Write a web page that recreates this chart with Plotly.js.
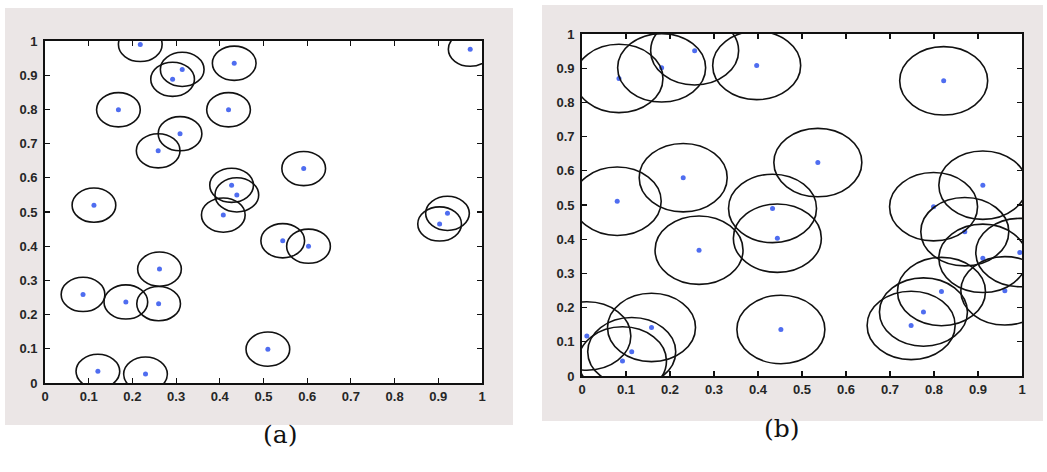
<!DOCTYPE html>
<html>
<head>
<meta charset="utf-8">
<script src="https://cdn.plot.ly/plotly-3.0.1.min.js"></script>
<style>
  html, body { margin: 0; padding: 0; background: #ffffff; }
  #chart { width: 1047px; height: 472px; }
</style>
</head>
<body>
<div id="chart"></div>
<script>
// Sensor positions for layout (a): small coverage radius
const ax = [0.218, 0.314, 0.292, 0.433, 0.168, 0.420, 0.309, 0.259, 0.427, 0.439,
            0.408, 0.112, 0.973, 0.592, 0.921, 0.903, 0.544, 0.603, 0.510, 0.262,
            0.087, 0.185, 0.260, 0.121, 0.230];
const ay = [0.990, 0.917, 0.888, 0.935, 0.799, 0.799, 0.729, 0.679, 0.578, 0.550,
            0.491, 0.520, 0.976, 0.627, 0.496, 0.465, 0.416, 0.400, 0.099, 0.333,
            0.259, 0.237, 0.232, 0.034, 0.026];
const radiusA = 0.05;

// Sensor positions for layout (b): larger coverage radius
const bx = [0.084, 0.181, 0.256, 0.397, 0.230, 0.080, 0.433, 0.822, 0.536, 0.911,
            0.799, 0.444, 0.266, 0.158, 0.011, 0.113, 0.092, 0.452, 0.870, 0.911,
            0.995, 0.961, 0.817, 0.776, 0.748];
const by = [0.870, 0.901, 0.951, 0.908, 0.580, 0.511, 0.490, 0.863, 0.624, 0.558,
            0.495, 0.403, 0.368, 0.142, 0.117, 0.071, 0.044, 0.136, 0.422, 0.344,
            0.361, 0.249, 0.247, 0.187, 0.148];
const radiusB = 0.1;

const panelLabels = ['(a)', '(b)'];
const tickVals = [0, 0.1, 0.2, 0.3, 0.4, 0.5, 0.6, 0.7, 0.8, 0.9, 1];
const tickText = ['0', '0.1', '0.2', '0.3', '0.4', '0.5', '0.6', '0.7', '0.8', '0.9', '1'];

const W = 1047, H = 472;
const px = v => v / W;
const py = v => 1 - v / H;

const dotStyle = { color: '#4f6df0', size: 5, symbol: 'circle' };

const traces = [
  { x: ax, y: ay, xaxis: 'x', yaxis: 'y', mode: 'markers', type: 'scatter',
    marker: dotStyle, hoverinfo: 'x+y', showlegend: false },
  { x: bx, y: by, xaxis: 'x2', yaxis: 'y2', mode: 'markers', type: 'scatter',
    marker: dotStyle, hoverinfo: 'x+y', showlegend: false }
];

// Coverage circles, drawn in data units on each subplot
function rings(xs, ys, r, xr, yr) {
  return xs.map((cx, i) => ({
    type: 'circle', xref: xr, yref: yr,
    x0: cx - r, x1: cx + r, y0: ys[i] - r, y1: ys[i] + r,
    line: { color: '#111111', width: 1.6 }, fillcolor: 'rgba(0,0,0,0)', layer: 'above'
  }));
}

const frameColor = '#ebe6e6';
const shapes = [
  // figure-window backgrounds
  { type: 'rect', xref: 'paper', yref: 'paper', layer: 'below',
    x0: px(5), x1: px(513), y0: py(425), y1: py(8),
    fillcolor: frameColor, line: { width: 0 } },
  { type: 'rect', xref: 'paper', yref: 'paper', layer: 'below',
    x0: px(542), x1: px(1043), y0: py(421), y1: py(5),
    fillcolor: frameColor, line: { width: 0 } },
  // white axes areas
  { type: 'rect', xref: 'x domain', yref: 'y domain', layer: 'below',
    x0: 0, x1: 1, y0: 0, y1: 1, fillcolor: '#ffffff', line: { width: 0 } },
  { type: 'rect', xref: 'x2 domain', yref: 'y2 domain', layer: 'below',
    x0: 0, x1: 1, y0: 0, y1: 1, fillcolor: '#ffffff', line: { width: 0 } }
].concat(rings(ax, ay, radiusA, 'x', 'y'), rings(bx, by, radiusB, 'x2', 'y2'));

const tickFont = { family: 'Liberation Sans, Arial, sans-serif', size: 13, color: '#262626', weight: 'bold' };
const axisBase = {
  range: [0, 1], tickmode: 'array', tickvals: tickVals, ticktext: tickText,
  ticks: 'inside', ticklen: 5, tickwidth: 1.2, tickcolor: '#111111',
  showline: true, linecolor: '#111111', linewidth: 1.8, mirror: 'ticks',
  showgrid: false, zeroline: false, fixedrange: true, tickfont: tickFont
};

const layout = {
  width: W, height: H,
  margin: { l: 0, r: 0, t: 0, b: 0 },
  paper_bgcolor: '#ffffff', plot_bgcolor: 'rgba(0,0,0,0)',
  showlegend: false,
  xaxis: Object.assign({}, axisBase, { domain: [px(45), px(482)], anchor: 'y', ticklabelstandoff: 1 }),
  yaxis: Object.assign({}, axisBase, { domain: [py(383), py(41)], anchor: 'x', ticklabelstandoff: 3 }),
  xaxis2: Object.assign({}, axisBase, { domain: [px(582), px(1022)], anchor: 'y2', ticklabelstandoff: 1 }),
  yaxis2: Object.assign({}, axisBase, { domain: [py(376), py(34)], anchor: 'x2', ticklabelstandoff: 3 }),
  shapes: shapes,
  annotations: [
    { text: panelLabels[0], xref: 'paper', yref: 'paper', x: px(261), y: py(451),
      showarrow: false, font: { family: 'DejaVu Serif, Liberation Serif, serif', size: 25, color: '#111111' } },
    { text: panelLabels[1], xref: 'paper', yref: 'paper', x: px(802), y: py(445),
      showarrow: false, font: { family: 'DejaVu Serif, Liberation Serif, serif', size: 25, color: '#111111' } }
  ]
};

Plotly.newPlot('chart', traces, layout, { displayModeBar: false, staticPlot: true });
</script>
</body>
</html>
